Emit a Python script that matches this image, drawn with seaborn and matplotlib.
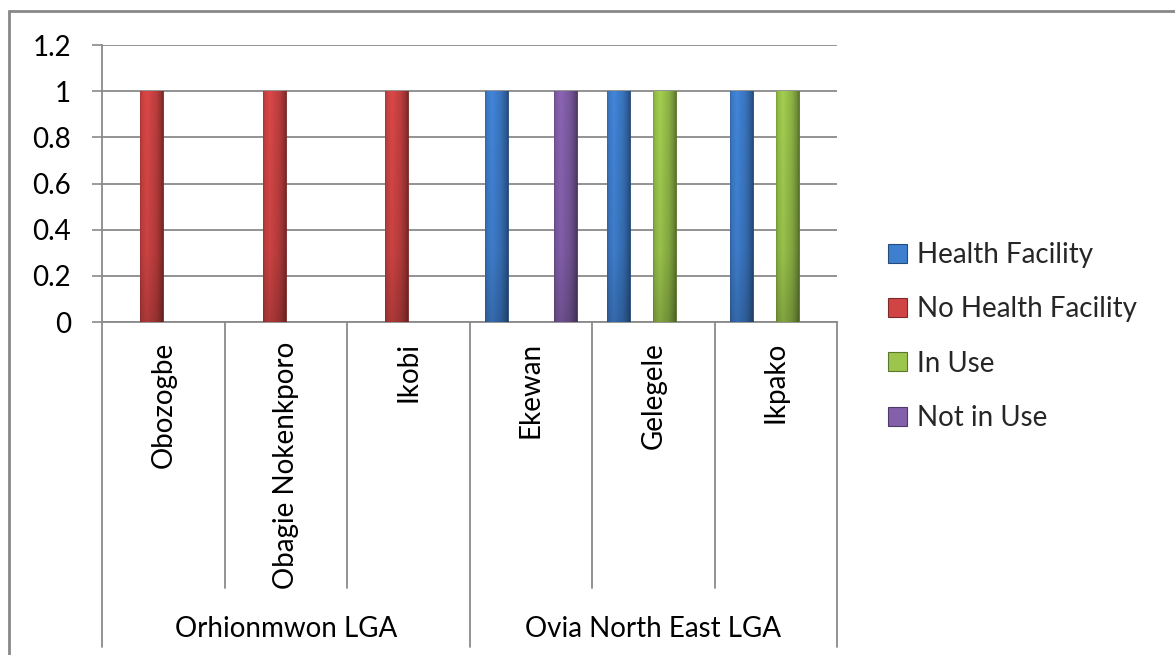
"""Health facility availability by village, grouped by LGA."""
import numpy as np
import pandas as pd
import matplotlib
matplotlib.use('Agg')
import matplotlib.pyplot as plt
import matplotlib.transforms as mtransforms
from matplotlib.patches import Patch
from matplotlib.lines import Line2D
import seaborn as sns

villages = ["Obozogbe", "Obagie Nokenkporo", "Ikobi", "Ekewan", "Gelegele", "Ikpako"]
lgas = ["Orhionmwon LGA"] * 3 + ["Ovia North East LGA"] * 3
series = ["Health Facility", "No Health Facility", "In Use", "Not in Use"]
health_facility = [None, None, None, 1, 1, 1]
no_health_facility = [1, 1, 1, None, None, None]
in_use = [None, None, None, None, 1, 1]
not_in_use = [None, None, None, 1, None, None]
colors = ["#3f7fcf", "#d04444", "#9bc54c", "#8460ab"]

rows = []
for name, vals in zip(series, [health_facility, no_health_facility, in_use, not_in_use]):
    for v, val in zip(villages, vals):
        rows.append({'village': v, 'series': name, 'value': val})
df = pd.DataFrame(rows).dropna()

sns.set_theme(style='white')
plt.rcParams['font.family'] = ['Lato', 'DejaVu Sans']
fs = 20
grey = '#8a8a8a'

W, H = 1175, 655
fig = plt.figure(figsize=(W / 100, H / 100), dpi=100)
ax = fig.add_axes([102 / W, 1 - 322 / H, (837 - 102) / W, (322 - 45) / H])

sns.barplot(data=df, x='village', y='value', hue='series', order=villages,
            hue_order=series, palette=colors, width=0.75, saturation=1,
            errorbar=None, legend=False, ax=ax, zorder=3)

# bevel-ish shading on each bar
t = np.linspace(0, 1, 64)
horiz = np.interp(t, [0, 0.08, 0.3, 0.7, 0.92, 1], [0.8, 0.95, 1.05, 0.9, 0.72, 0.6])
vert = np.interp(t, [0, 0.7, 1], [1.0, 0.93, 0.8])
for p in list(ax.patches):
    h = p.get_height()
    if not np.isfinite(h) or h == 0:
        continue
    x, y, w = p.get_x(), p.get_y(), p.get_width()
    base = np.array(p.get_facecolor()[:3])
    img = np.clip(base[None, None, :] * horiz[None, :, None] * vert[:, None, None], 0, 1)
    im = ax.imshow(img, extent=[x, x + w, y, y + h], aspect='auto',
                   zorder=p.get_zorder() + 0.5, interpolation='bilinear')
    im.set_clip_path(p)
    p.set_edgecolor(base * 0.55)
    p.set_linewidth(0.6)

ax.set_xlim(-0.5, len(villages) - 0.5)
ax.set_ylim(0, 1.2)
ax.set_yticks(np.arange(0, 1.21, 0.2))
ax.yaxis.set_major_formatter(plt.FuncFormatter(lambda v, _: f"{v:g}"))
ax.yaxis.grid(True, color=grey, lw=1.3)
ax.set_axisbelow(True)
ax.tick_params(axis='y', length=7.2, width=1.2, color=grey, pad=15,
               labelsize=fs, labelcolor='black', left=True)
ax.tick_params(axis='x', length=0, labelbottom=False)
ax.set_xlabel('')
ax.set_ylabel('')
for s in ['top', 'right']:
    ax.spines[s].set_visible(False)
for s in ['left', 'bottom']:
    ax.spines[s].set_color(grey)
    ax.spines[s].set_linewidth(1.3)

# multi-level category axis
trans = mtransforms.blended_transform_factory(ax.transData, fig.transFigure)
y_axis = 1 - 322 / H
y_inner = 1 - 588 / H
y_group = 1 - 647 / H
for i in range(len(villages) + 1):
    group_edge = i == 0 or i == len(villages) or lgas[i - 1] != lgas[i]
    ax.add_line(Line2D([i - 0.5, i - 0.5], [y_axis, y_group if group_edge else y_inner],
                       transform=trans, color=grey, lw=1.3, clip_on=False))
for i, v in enumerate(villages):
    ax.text(i, 1 - 342 / H, v, transform=trans, rotation=90, ha='center', va='top',
            fontsize=fs, color='black')
for g in dict.fromkeys(lgas):
    idx = [i for i, l in enumerate(lgas) if l == g]
    ax.text(np.mean(idx), 1 - 637 / H, g, transform=trans, ha='center', va='baseline',
            fontsize=fs, color='black')

handles = [Patch(facecolor=c, edgecolor=np.array(matplotlib.colors.to_rgb(c)) * 0.6, lw=0.8)
           for c in colors]
fig.legend(handles, series, loc='center left', bbox_to_anchor=(888 / W, 1 - 336.5 / H),
           frameon=False, fontsize=fs, handlelength=0.68, handleheight=0.68,
           handletextpad=0.36, labelspacing=1.02, borderpad=0, borderaxespad=0)

# chart frame (cropped at right and bottom)
fig.add_artist(Line2D([9 / W, 9 / W], [0, 1 - 11 / H], transform=fig.transFigure,
                      color='#888888', lw=2))
fig.add_artist(Line2D([9 / W, 1], [1 - 11 / H, 1 - 11 / H], transform=fig.transFigure,
                      color='#888888', lw=2))

fig.savefig('out.png', dpi=100)
